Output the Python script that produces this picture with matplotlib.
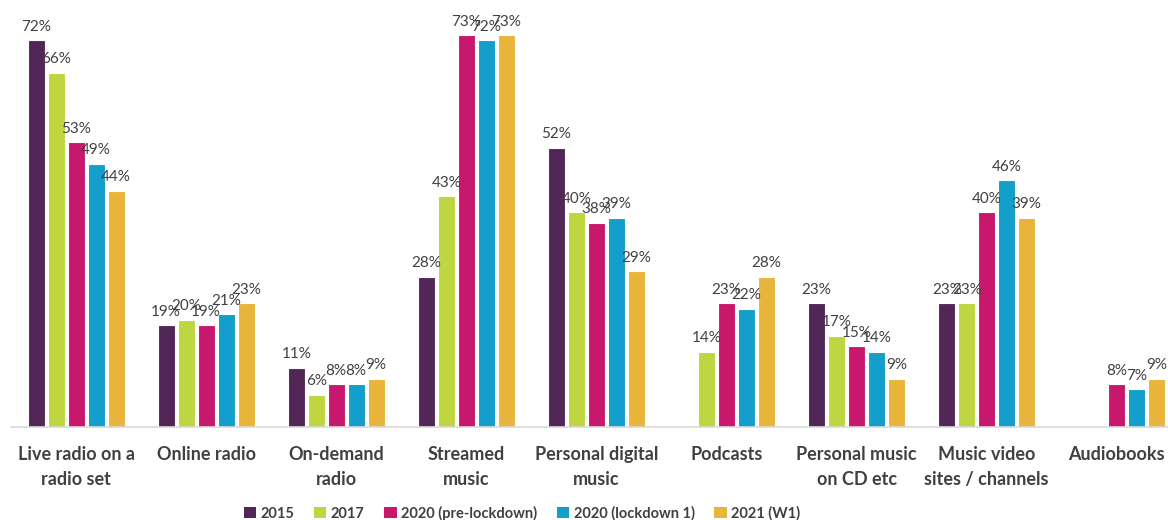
import numpy as np
import matplotlib
matplotlib.use("Agg")
import matplotlib.pyplot as plt

categories = [
    "Live radio on a\nradio set", "Online radio", "On-demand\nradio",
    "Streamed\nmusic", "Personal digital\nmusic", "Podcasts",
    "Personal music\non CD etc", "Music video\nsites / channels", "Audiobooks",
]
series_names = ["2015", "2017", "2020 (pre-lockdown)", "2020 (lockdown 1)", "2021 (W1)"]
nan = np.nan
v2015 = [72, 19, 11, 28, 52, nan, 23, 23, nan]
v2017 = [66, 20, 6, 43, 40, 14, 17, 23, nan]
v2020_pre = [53, 19, 8, 73, 38, 23, 15, 40, 8]
v2020_lock = [49, 21, 8, 72, 39, 22, 14, 46, 7]
v2021 = [44, 23, 9, 73, 29, 28, 9, 39, 9]
series_values = [v2015, v2017, v2020_pre, v2020_lock, v2021]
colors = ["#522758", "#BFD641", "#C8186E", "#139ECB", "#E9B43A"]

plt.rcParams["font.family"] = ["Lato", "DejaVu Sans"]
text_color = "#404040"

W, H = 1168, 520
fig = plt.figure(figsize=(W / 100, H / 100), dpi=100)
left_px, base_px = 11, 427
ax = fig.add_axes([left_px / W, (H - base_px) / H, (W - left_px) / W, base_px / H])

group_step = 130.1
x = np.arange(len(categories))
step = 20 / group_step
width = 17 / group_step
for i, (name, vals, col) in enumerate(zip(series_names, series_values, colors)):
    vals = np.array(vals, dtype=float)
    pos = x + (i - 2) * step
    mask = ~np.isnan(vals)
    ax.bar(pos[mask], vals[mask], width=width, color=col, edgecolor="white",
           linewidth=0.8, label=name, zorder=2)
    for p, v in zip(pos[mask], vals[mask]):
        ax.text(p, v + 1.2, f"{int(v)}%", ha="center", va="bottom",
                fontsize=11, color=text_color)

ax.set_xlim(-0.5, -0.5 + (W - left_px) / group_step)
ax.set_ylim(0, base_px / 5.37)
ax.set_yticks([])
ax.set_xticks(x)
ax.set_xticklabels(categories, fontsize=13, fontweight="bold", color=text_color,
                   linespacing=1.55)
ax.tick_params(axis="x", length=0, pad=14)
for s in ["top", "right", "left"]:
    ax.spines[s].set_visible(False)
ax.spines["bottom"].set_color("#D9D9D9")
ax.spines["bottom"].set_linewidth(1.2)

leg = fig.legend(loc="center", bbox_to_anchor=(522 / W, 1 - 513 / H), ncol=5,
                 frameon=False, handlelength=0.85, handleheight=0.85,
                 handletextpad=0.3, columnspacing=1.35,
                 prop={"size": 10.5, "weight": "bold"})
for t in leg.get_texts():
    t.set_color(text_color)
for h in leg.legend_handles:
    h.set_edgecolor("none")

fig.savefig("out.png", dpi=100)
